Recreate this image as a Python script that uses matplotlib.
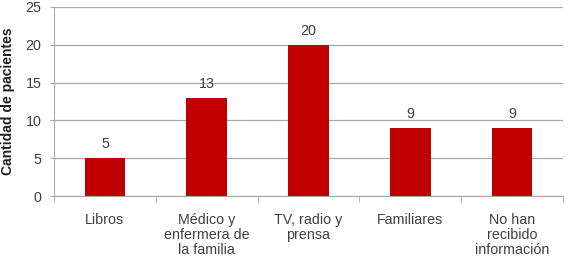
import matplotlib
matplotlib.use("Agg")
import matplotlib.pyplot as plt

categories = ["Libros", "Médico y\nenfermera de\nla familia", "TV, radio y\nprensa", "Familiares", "No han\nrecibido\ninformación"]
values = [5, 13, 20, 9, 9]

plt.rcParams['font.family'] = ['Liberation Sans', 'DejaVu Sans']
fig = plt.figure(figsize=(5.75, 2.69), dpi=100)
ax = fig.add_axes([54/575, 1-196/269, (563-54)/575, (196-7)/269])

x = list(range(len(categories)))
ax.bar(x, values, width=0.4, color="#C00000", zorder=3)
for xi, v in zip(x, values):
    ax.annotate(str(v), (xi, v), xytext=(0, 5), textcoords="offset points",
                ha="center", va="bottom", fontsize=10.3, color="#404040")

ax.set_xlim(-0.5, len(categories) - 0.5)
ax.set_ylim(0, 25)
ax.set_yticks([0, 5, 10, 15, 20, 25])
ax.yaxis.grid(True, color="#A8A8A8", linewidth=0.9, zorder=0)
ax.set_axisbelow(True)

ax.set_xticks(x)
ax.set_xticklabels(categories, fontsize=10.3, color="#404040", linespacing=1.1)
ax.set_xticks([i - 0.5 for i in range(len(categories) + 1)], minor=True)
ax.tick_params(axis="x", which="major", length=0, pad=12)
ax.tick_params(axis="x", which="minor", length=4, color="#A8A8A8", direction="out")
ax.tick_params(axis="y", length=3, color="#A8A8A8", labelsize=10.3, labelcolor="#404040", pad=6)

for s in ["top", "right"]:
    ax.spines[s].set_visible(False)
ax.spines["left"].set_color("#A8A8A8")
ax.spines["bottom"].set_color("#A8A8A8")

ax.set_ylabel("Cantidad de pacientes", fontsize=10, fontweight="bold", color="#202020", labelpad=8)

fig.savefig("out.png", dpi=100)
